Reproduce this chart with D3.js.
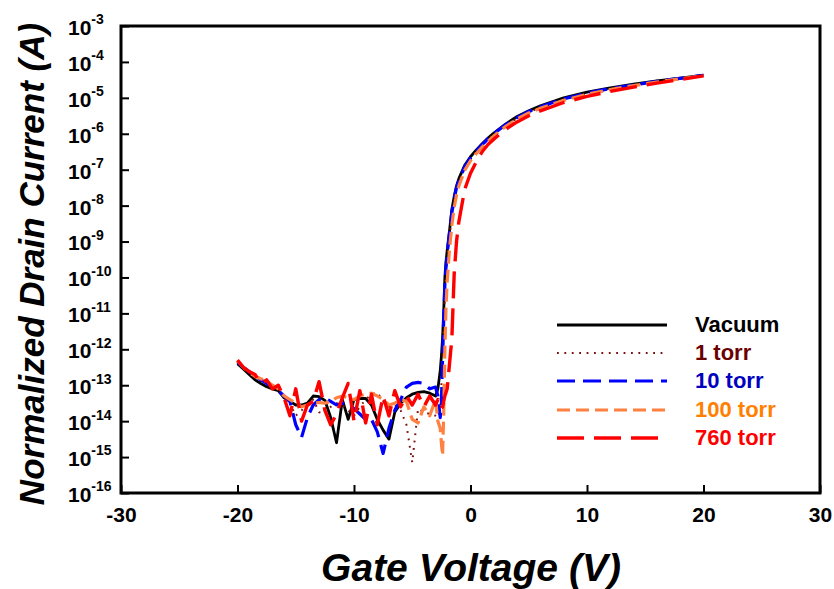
<!DOCTYPE html>
<html>
<head>
<meta charset="utf-8">
<script src="https://cdnjs.cloudflare.com/ajax/libs/d3/7.8.5/d3.min.js"></script>
<style>
  body { margin: 0; background: #fff; }
  svg { display: block; font-family: "Liberation Sans", Arial, sans-serif; }
</style>
</head>
<body>
<script>
const width = 834;
const height = 589;
const margin = {top: 26, right: 14, bottom: 96, left: 121};

// gate voltage (V), shared by all five sweeps
const gateVoltage = [
  -20, -19.5, -19, -18.5, -18, -17.5, -17, -16.5, -16, -15.5,
  -15, -14.5, -14, -13.5, -13, -12.5, -12, -11.5, -11, -10.5,
  -10, -9.5, -9, -8.5, -8, -7.5, -7, -6.5, -6, -5.5,
  -5, -4.5, -4, -3.5, -3,
  -2.8, -2.6, -2.5, -2.4, -2.3, -2.2, -2.1, -2.0, -1.8, -1.6, -1.4, -1.2, -1.0, -0.5,
  0, 0.5, 1, 1.5, 2, 3, 4, 5, 6, 8, 10, 12, 14, 16, 18, 20
];

// log10 of normalized drain current (A)
const vacuumLogId = [
  -12.40, -12.55, -12.70, -12.85, -12.95, -13.04, -13.10, -13.15, -13.35, -13.45,
  -13.55, -13.55, -13.50, -13.30, -13.32, -13.42, -13.90, -14.60, -13.40, -13.95,
  -13.40, -13.37, -13.37, -13.55, -13.95, -14.25, -14.50, -13.75, -13.50, -13.35,
  -13.25, -13.20, -13.18, -13.22, -13.30,
  -13.10, -12.60, -12.20, -11.70, -10.95, -10.00, -9.55, -9.25, -8.70, -8.10, -7.75, -7.45, -7.25, -6.88,
  -6.64, -6.45, -6.28, -6.12, -5.98, -5.73, -5.52, -5.36, -5.22, -5.00, -4.84, -4.72, -4.62, -4.53, -4.45, -4.37
];
const torr1LogId = [
  -12.35, -12.52, -12.66, -12.78, -12.88, -12.98, -13.08, -13.18, -13.30, -13.50,
  -13.85, -13.70, -13.55, -13.40, -13.75, -13.80, -13.60, -13.50, -13.55, -13.70,
  -13.85, -13.60, -13.40, -13.25, -13.20, -13.45, -13.60, -13.55, -13.70, -14.10,
  -15.15, -13.65, -13.75, -13.80, -13.85,
  -13.90, -13.60, -13.00, -12.20, -11.30, -10.40, -9.80, -9.45, -8.85, -8.30, -7.88, -7.56, -7.35, -6.95,
  -6.70, -6.50, -6.32, -6.16, -6.02, -5.77, -5.57, -5.40, -5.27, -5.05, -4.88, -4.75, -4.65, -4.55, -4.46, -4.38
];
const torr10LogId = [
  -12.35, -12.50, -12.62, -12.75, -12.85, -12.95, -13.05, -13.15, -13.30, -13.45,
  -14.10, -14.45, -13.90, -13.55, -13.40, -13.35, -13.45, -13.55, -13.50, -13.55,
  -13.65, -13.80, -13.95, -13.95, -14.30, -14.90, -14.20, -13.70, -13.40, -13.05,
  -12.95, -12.92, -12.95, -13.10, -13.05,
  -13.30, -13.90, -13.50, -12.30, -11.20, -10.20, -9.70, -9.35, -8.75, -8.20, -7.80, -7.50, -7.30, -6.92,
  -6.67, -6.48, -6.30, -6.14, -6.00, -5.75, -5.55, -5.38, -5.25, -5.03, -4.87, -4.74, -4.64, -4.54, -4.46, -4.37
];
const torr100LogId = [
  -12.32, -12.50, -12.65, -12.75, -12.82, -12.88, -13.00, -13.10, -13.30, -13.40,
  -13.50, -13.60, -13.55, -13.50, -13.48, -13.50, -13.45, -13.35, -13.30, -13.35,
  -13.40, -13.30, -13.25, -13.22, -13.30, -13.40, -13.55, -13.50, -13.40, -13.45,
  -13.95, -14.05, -13.60, -13.85, -13.40,
  -14.00, -14.20, -14.60, -14.95, -13.80, -12.00, -10.80, -10.10, -9.20, -8.55, -8.05, -7.70, -7.45, -7.02,
  -6.75, -6.55, -6.37, -6.21, -6.06, -5.80, -5.59, -5.42, -5.29, -5.07, -4.90, -4.77, -4.66, -4.56, -4.47, -4.38
];
const torr760LogId = [
  -12.30, -12.50, -12.62, -12.70, -12.95, -12.85, -13.10, -13.00, -13.35, -13.85,
  -13.10, -14.00, -13.55, -13.45, -12.90, -13.70, -14.10, -13.80, -13.35, -12.95,
  -14.00, -13.15, -14.05, -13.25, -14.10, -13.30, -13.85, -13.15, -13.60, -13.30,
  -13.55, -13.25, -13.60, -13.30, -13.55,
  -13.40, -13.55, -13.65, -13.60, -13.45, -13.30, -13.20, -13.10, -12.40, -11.70, -9.90, -9.00, -8.45, -7.55,
  -7.10, -6.78, -6.50, -6.30, -6.15, -5.88, -5.67, -5.50, -5.36, -5.13, -4.96, -4.82, -4.70, -4.59, -4.49, -4.39
];

const seriesLabels = ["Vacuum", "1 torr", "10 torr", "100 torr", "760 torr"];
const seriesLogId = [vacuumLogId, torr1LogId, torr10LogId, torr100LogId, torr760LogId];
const xTicks = [-30, -20, -10, 0, 10, 20, 30];
const yTickExponents = [-16, -15, -14, -13, -12, -11, -10, -9, -8, -7, -6, -5, -4, -3];

// line styles per series
const styles = [
  {stroke: "#000000", text: "#000000", dash: null, width: 2.8},
  {stroke: "#7b1010", text: "#6b0000", dash: "1.8,5.6", width: 2},
  {stroke: "#0000ff", text: "#0000c0", dash: "18,8", width: 3.2},
  {stroke: "#ff8040", text: "#ff8000", dash: "13,6", width: 3.2},
  {stroke: "#ff0000", text: "#ff0000", dash: "27,10", width: 3.4}
];

const svg = d3.select("body").append("svg")
  .attr("width", width)
  .attr("height", height);

const x = d3.scaleLinear()
  .domain([-30, 30])
  .range([margin.left, width - margin.right]);

const y = d3.scaleLog()
  .domain([1e-16, 1e-3])
  .range([height - margin.bottom, margin.top]);

// curves
const line = d3.line()
  .x(d => x(d.v))
  .y(d => y(d.i));

seriesLogId.forEach(function (logs, k) {
  const pts = gateVoltage.map((v, j) => ({v: v, i: Math.pow(10, logs[j])}));
  svg.append("path")
    .datum(pts)
    .attr("fill", "none")
    .attr("stroke", styles[k].stroke)
    .attr("stroke-width", styles[k].width)
    .attr("stroke-dasharray", styles[k].dash)
    .attr("stroke-linejoin", "round")
    .attr("d", line);
});

// axes
const xAxis = svg.append("g")
  .attr("transform", `translate(0,${height - margin.bottom})`)
  .call(d3.axisBottom(x)
    .tickValues(xTicks)
    .tickSizeInner(-8)
    .tickSizeOuter(0)
    .tickPadding(14)
    .tickFormat(d => String(d)));

xAxis.select(".domain").remove();
xAxis.selectAll(".tick line").attr("stroke-width", 2);
xAxis.selectAll(".tick text")
  .attr("font-size", 21)
  .attr("font-weight", "bold")
  .attr("font-family", "Liberation Sans, Arial, sans-serif")
  .attr("fill", "#000");

const yAxis = svg.append("g")
  .attr("transform", `translate(${margin.left},0)`)
  .call(d3.axisLeft(y)
    .tickValues(yTickExponents.map(e => Math.pow(10, e)))
    .tickSizeInner(-8)
    .tickSizeOuter(0));

yAxis.select(".domain").remove();
yAxis.selectAll(".tick line").attr("stroke-width", 2);
yAxis.selectAll(".tick text")
  .attr("x", -53)
  .attr("text-anchor", "start")
  .attr("font-size", 21)
  .attr("font-weight", "bold")
  .attr("font-family", "Liberation Sans, Arial, sans-serif")
  .attr("fill", "#000")
  .attr("dy", "0.4em")
  .each(function (d) {
    const t = d3.select(this).text(null);
    t.append("tspan").text("10");
    t.append("tspan")
      .attr("dy", "-0.75em")
      .attr("font-size", 14)
      .text(Math.round(Math.log10(d)));
  });

// frame
svg.append("rect")
  .attr("x", x.range()[0])
  .attr("y", y.range()[1])
  .attr("width", x.range()[1] - x.range()[0])
  .attr("height", y.range()[0] - y.range()[1])
  .attr("fill", "none")
  .attr("stroke", "#000")
  .attr("stroke-width", 3);

// axis titles
svg.append("text")
  .attr("x", 471)
  .attr("y", 581)
  .attr("text-anchor", "middle")
  .attr("font-size", 39)
  .attr("font-weight", "bold")
  .attr("font-style", "italic")
  .text("Gate Voltage (V)");

svg.append("text")
  .attr("transform", "translate(44,264) rotate(-90)")
  .attr("text-anchor", "middle")
  .attr("font-size", 35)
  .attr("font-weight", "bold")
  .attr("font-style", "italic")
  .text("Normalized Drain Current (A)");

// legend
const legendY = [325, 353, 381, 410, 438];
const legend = svg.append("g");

seriesLabels.forEach(function (label, k) {
  legend.append("line")
    .attr("x1", 557)
    .attr("x2", 667)
    .attr("y1", legendY[k])
    .attr("y2", legendY[k])
    .attr("stroke", styles[k].stroke)
    .attr("stroke-width", styles[k].width)
    .attr("stroke-dasharray", styles[k].dash);
  legend.append("text")
    .attr("x", 695)
    .attr("y", legendY[k] + 7)
    .attr("font-size", 22)
    .attr("font-weight", "bold")
    .attr("fill", styles[k].text)
    .text(label);
});
</script>
</body>
</html>
